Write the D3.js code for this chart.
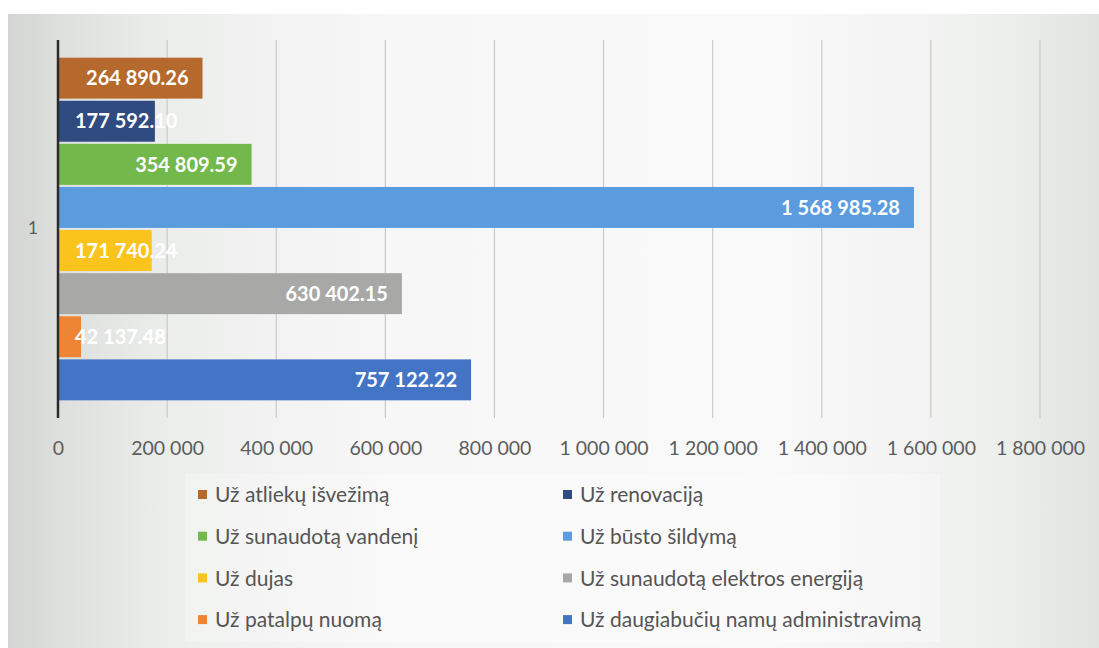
<!DOCTYPE html>
<html>
<head>
<meta charset="utf-8">
<script src="https://cdn.jsdelivr.net/npm/d3@7"></script>
<style>
  html, body { margin: 0; padding: 0; background: #fff; }
  svg { display: block; font-family: Lato, "Open Sans", sans-serif; }
</style>
</head>
<body>
<svg id="chart" width="1099" height="648"></svg>
<script>
// duomenys (iš viršaus į apačią)
const series = [
  "Už atliekų išvežimą",
  "Už renovaciją",
  "Už sunaudotą vandenį",
  "Už būsto šildymą",
  "Už dujas",
  "Už sunaudotą elektros energiją",
  "Už patalpų nuomą",
  "Už daugiabučių namų administravimą"
];
const values = [264890.26, 177592.10, 354809.59, 1568985.28, 171740.24, 630402.15, 42137.48, 757122.22];
const colors = ["#b5692c", "#2f4b7f", "#72b84a", "#5b9cdf", "#fbc41c", "#a8a9a6", "#ee8535", "#4474c6"];
const xTicks = [0, 200000, 400000, 600000, 800000, 1000000, 1200000, 1400000, 1600000, 1800000];
const category = "1";

const svg = d3.select("#chart");
const W = 1099, H = 648;

// fonas kaip nuskenuotame lape
const defs = svg.append("defs");
const grad = defs.append("linearGradient").attr("id", "bg").attr("x1", "0").attr("x2", "1");
[[0, "#d2d5d2"], [0.05, "#dde0dd"], [0.15, "#eceeec"], [0.35, "#f7f7f7"], [0.7, "#f9f9f9"], [0.9, "#eef0ee"], [1, "#e0e3e0"]]
  .forEach(([o, c]) => grad.append("stop").attr("offset", o).attr("stop-color", c));
svg.append("rect").attr("x", 8).attr("y", 14).attr("width", W - 8).attr("height", H - 14).attr("fill", "url(#bg)");
svg.append("rect").attr("x", 185).attr("y", 474).attr("width", 755).attr("height", 168)
  .attr("fill", "#fff").attr("opacity", 0.25);

const x = d3.scaleLinear().domain([0, 1800000]).range([58, 1040]);
const y = d3.scaleBand().domain(series).range([40, 418]).paddingInner(0.05).paddingOuter(0.41);

// tinklelis
svg.append("g").selectAll("line")
  .data(xTicks.slice(1))
  .enter().append("line")
  .attr("x1", d => x(d)).attr("x2", d => x(d))
  .attr("y1", 40).attr("y2", 418)
  .attr("stroke", "#c9cac8").attr("stroke-width", 1.2);

// x ašies žymės
const xAxis = d3.axisBottom(x).tickValues(xTicks).tickSize(0).tickPadding(0)
  .tickFormat(d => d3.format(",")(d).replace(/,/g, " "));
const ax = svg.append("g").attr("transform", "translate(0,455)").call(xAxis);
ax.select(".domain").remove();
ax.selectAll("text").attr("font-family", "Lato, sans-serif").attr("font-size", 19.5)
  .attr("fill", "#5c5c5c").attr("dy", 0);

// stulpeliai
svg.append("g").selectAll("rect")
  .data(series)
  .enter().append("rect")
  .attr("x", x(0))
  .attr("y", d => y(d))
  .attr("width", (d, i) => x(values[i]) - x(0))
  .attr("height", y.bandwidth())
  .attr("fill", (d, i) => colors[i]);

// y ašis
svg.append("line").attr("x1", x(0)).attr("x2", x(0)).attr("y1", 40).attr("y2", 418)
  .attr("stroke", "#2b2b2b").attr("stroke-width", 2.5);
svg.append("text").attr("x", 33).attr("y", 228).attr("dy", "0.35em").attr("text-anchor", "middle")
  .attr("font-size", 17).attr("fill", "#5c5c5c").text(category);

// reikšmių žymės
const fmt = v => d3.format(",.2f")(v).replace(/,/g, " ");
svg.append("g").selectAll("text")
  .data(series)
  .enter().append("text")
  .attr("y", d => y(d) + y.bandwidth() / 2)
  .attr("dy", "0.36em")
  .attr("font-size", 20).attr("font-weight", 700).attr("fill", "#fff")
  .text((d, i) => fmt(values[i]))
  .each(function (d, i) {
    const w = this.getComputedTextLength();
    const end = Math.max(x(values[i]) - 14, 75 + w);
    d3.select(this).attr("x", end - w);
  });

// legenda
const legend = svg.append("g");
series.forEach((s, i) => {
  const col = i % 2, row = Math.floor(i / 2);
  const lx = col === 0 ? 198 : 563;
  const ly = 495 + row * 41.7;
  legend.append("rect").attr("x", lx).attr("y", ly - 5).attr("width", 9).attr("height", 9).attr("fill", colors[i]);
  legend.append("text").attr("x", lx + 17).attr("y", ly).attr("dy", "0.35em")
    .attr("font-size", 21).attr("fill", "#555").text(s);
});
</script>
</body>
</html>
